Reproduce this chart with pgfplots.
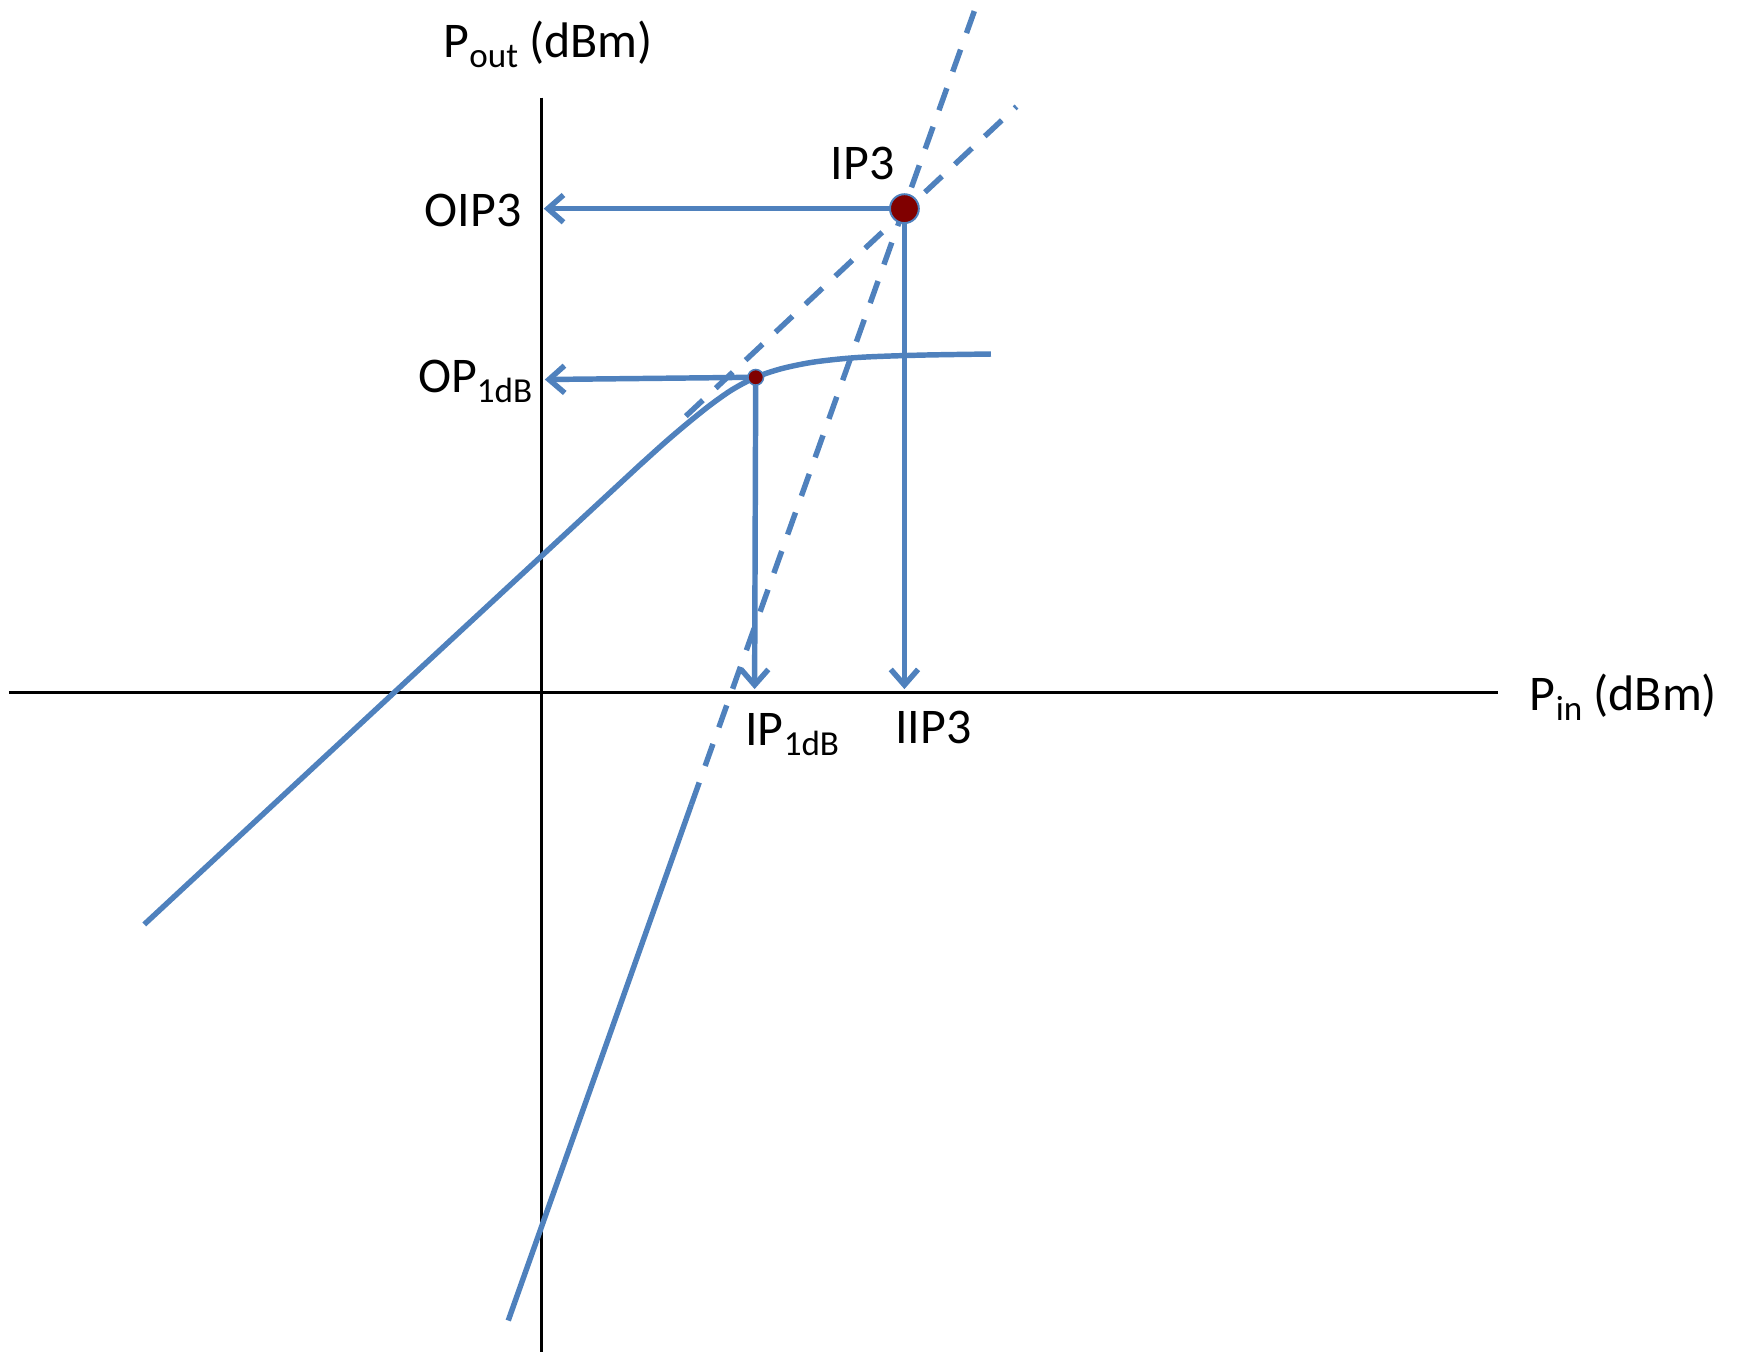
\documentclass[border=0pt]{standalone}
\usepackage{pgfplots}
\pgfplotsset{compat=1.18}
\usepackage{fontspec}
\setmainfont{Carlito}
\usetikzlibrary{arrows.meta}
\definecolor{lblue}{RGB}{79,129,189}
\definecolor{dred}{RGB}{128,0,0}
\newcommand{\sub}[1]{\raisebox{-2.6pt}{\fontsize{9}{11}\selectfont #1}}
\begin{document}
\begin{tikzpicture}
\begin{axis}[hide axis, scale only axis, width=15.68cm, height=12.2cm,
  xmin=0, xmax=1568, ymin=0, ymax=1220, y dir=reverse, clip=false]
\path (axis cs:0,0) rectangle (axis cs:1568,1220);
% axes
\addplot[black, line width=0.6pt] coordinates {(8,624) (1350,624)};
\addplot[black, line width=0.6pt] coordinates {(488,88) (488,1218)};
% fundamental curve
\addplot[lblue, line width=1.4pt, smooth, tension=0.5] coordinates {
(130,833) (345,633.5) (560,434.4) (580,416) (600,398) (620,381) (640,365) (660,351) (681,340) (705,332) (735,326) (775,322) (830,320) (893,319)};
% third-order solid
\addplot[lblue, line width=1.4pt] coordinates {(458,1190) (623,725)};
% dashed extrapolations
\addplot[lblue, line width=1.4pt, dash pattern=on 6pt off 4.5pt] coordinates {(623,725) (878,10)};
\addplot[lblue, line width=1.4pt, dash pattern=on 6pt off 4.5pt] coordinates {(618,375) (916,96)};
% arrows
\addplot[lblue, line width=1.4pt, -{Straight Barb[length=4pt,width=7pt]}] coordinates {(805,188) (490,188)};
\addplot[lblue, line width=1.4pt, -{Straight Barb[length=4pt,width=7pt]}] coordinates {(815,195) (815,621)};
\addplot[lblue, line width=1.4pt, -{Straight Barb[length=4pt,width=7pt]}] coordinates {(677,340) (491,342)};
\addplot[lblue, line width=1.4pt, -{Straight Barb[length=4pt,width=7pt]}] coordinates {(681,344) (680,621)};
% points
\addplot[only marks, mark=*, mark size=3.7pt, mark options={fill=dred, draw=lblue, line width=0.5pt}] coordinates {(815,188)};
\addplot[only marks, mark=*, mark size=2pt, mark options={fill=dred, draw=lblue, line width=0.4pt}] coordinates {(681,340)};
% labels
\fontsize{12.8}{15}\selectfont
\node[anchor=base west, inner sep=0pt] at (axis cs:399,52) {P\sub{out} (dBm)};
\node[anchor=base west, inner sep=0pt] at (axis cs:1378,640) {P\sub{in} (dBm)};
\node[anchor=base west, inner sep=0pt] at (axis cs:382,204) {OIP3};
\node[anchor=base west, inner sep=0pt] at (axis cs:376,354) {OP\sub{1dB}};
\node[anchor=base west, inner sep=0pt] at (axis cs:748,162) {IP3};
\node[anchor=base west, inner sep=0pt] at (axis cs:671,672) {IP\sub{1dB}};
\node[anchor=base west, inner sep=0pt] at (axis cs:806,670) {IIP3};
\end{axis}
\end{tikzpicture}
\end{document}
